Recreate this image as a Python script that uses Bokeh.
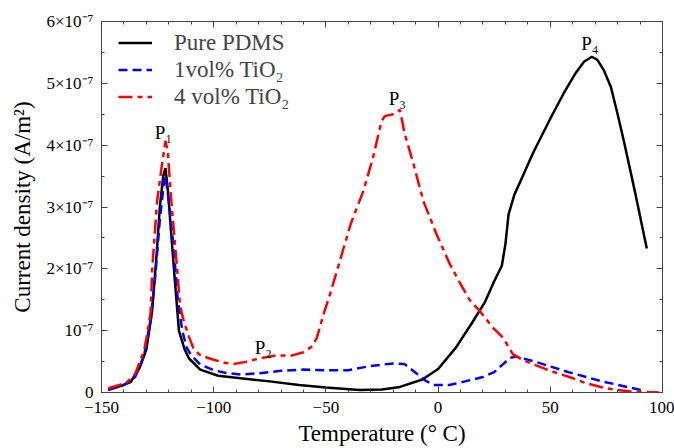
from bokeh.plotting import figure
from bokeh.models import (LinearAxis, SingleIntervalTicker, CustomJSTickFormatter,
                          Range1d, Label, Legend, LegendItem)
from bokeh.embed import file_html
from bokeh.resources import INLINE

FONT = "Liberation Serif"

# Temperature (deg C) and current density (units of 1e-7 A/m^2)
t_pdms = [-147, -142, -137, -133, -130, -127.5, -125.5, -124, -122.5, -121.5, -120.5, -119,
          -117.5, -115.5, -113, -111, -106, -98, -88, -75, -62, -50, -35, -25, -17, -7, 0,
          8, 15, 21, 25, 28.4, 30, 31.4, 34, 37, 42, 46, 51, 56, 61, 65, 68.5, 71, 74, 77,
          80, 83, 88, 93]
j_pdms = [0.04, 0.10, 0.17, 0.40, 0.70, 1.30, 2.20, 3.00, 3.50, 3.63, 3.30, 2.60,
          1.90, 1.00, 0.70, 0.55, 0.37, 0.27, 0.23, 0.18, 0.12, 0.08, 0.04, 0.05, 0.09, 0.21, 0.38,
          0.73, 1.12, 1.47, 1.80, 2.05, 2.40, 2.88, 3.20, 3.44, 3.85, 4.14, 4.50, 4.84, 5.15, 5.35,
          5.43, 5.38, 5.20, 4.94, 4.50, 4.03, 3.20, 2.33]

t_tio1 = [-147, -140, -135, -131, -128, -126, -124, -122, -121.5, -120, -118, -116, -114,
          -112, -110, -106, -100, -95, -88, -80, -70, -60, -50, -40, -30, -20, -15, -10, -6,
          -2, 5, 12, 20, 25, 29, 32, 35, 44, 58, 73, 88, 92]
j_tio1 = [0.05, 0.12, 0.25, 0.60, 1.20, 1.90, 2.80, 3.45, 3.50, 3.10, 2.40, 1.50, 1.00,
          0.72, 0.60, 0.45, 0.36, 0.32, 0.29, 0.31, 0.35, 0.37, 0.36, 0.36, 0.43, 0.47, 0.46,
          0.32, 0.20, 0.12, 0.12, 0.18, 0.25, 0.33, 0.46, 0.56, 0.58, 0.49, 0.33, 0.18, 0.06, 0.03]

t_tio4 = [-147, -142, -138.5, -135, -131, -129.6, -128.1, -127.4, -125.2, -123, -121.5, -120.5,
          -118.9, -116.3, -115, -113.3, -111, -108.9, -105.9, -100, -95, -91, -85, -80, -72,
          -65, -60, -56, -54, -51, -48.5, -44, -39, -33.3, -29, -25.2, -23.7, -20, -17, -15,
          -11, -6.6, -0.7, 5.2, 9.6, 14, 18.5, 24.4, 28.9, 33.3, 38, 43.7, 50, 58.5, 66, 73.3,
          80, 85, 98.5]
j_tio4 = [0.07, 0.12, 0.17, 0.30, 0.68, 0.95, 1.30, 2.00, 3.10, 3.70, 4.07, 3.90,
          3.10, 2.00, 1.40, 1.15, 0.90, 0.70, 0.60, 0.53, 0.48, 0.46, 0.50, 0.55, 0.60,
          0.60, 0.65, 0.75, 0.89, 1.27, 1.55, 2.10, 2.72, 3.26, 3.80, 4.39, 4.47, 4.50, 4.57, 4.20,
          3.70, 3.10, 2.56, 2.08, 1.78, 1.50, 1.32, 1.05, 0.89, 0.62, 0.52, 0.44, 0.35, 0.25, 0.15, 0.08,
          0.04, 0.02, 0.0]

series_names = ["Pure PDMS", "1vol% TiO\u2082", "4 vol% TiO\u2082"]

peak_labels = ["P\u2081", "P\u2082", "P\u2083", "P\u2084"]
peak_t = [-122.4, -77.9, -18.2, 67.6]
peak_j = [4.2, 0.73, 4.75, 5.64]

p = figure(width=674, height=448, output_backend="svg", toolbar_location=None,
           x_range=Range1d(-150, 100), y_range=Range1d(0, 6),
           min_border_left=101, min_border_right=12, min_border_top=21, min_border_bottom=56,
           background_fill_color="white", border_fill_color="white")
p.grid.visible = False
p.outline_line_color = "#444444"
p.outline_line_width = 1

xt = SingleIntervalTicker(interval=50, num_minor_ticks=5)
yt = SingleIntervalTicker(interval=1, num_minor_ticks=2)
xfmt = CustomJSTickFormatter(code="""
const v = Math.round(tick);
return (v < 0 ? "\\u2212" : "") + Math.abs(v);
""")
yfmt = CustomJSTickFormatter(code="""
const n = Math.round(tick);
if (n === 0) return "0";
if (n === 1) return "10\\u207B\\u2077";
return n + "\\u00D710\\u207B\\u2077";
""")
blank = CustomJSTickFormatter(code='return "";')

def style_axis(ax, ticker):
    ax.ticker = ticker
    ax.axis_line_color = "#444444"
    ax.major_tick_line_color = "#444444"
    ax.minor_tick_line_color = "#444444"
    ax.major_tick_in = 6
    ax.major_tick_out = 0
    ax.minor_tick_in = 3
    ax.minor_tick_out = 0
    ax.major_label_text_font = FONT
    ax.major_label_text_font_size = "17px"
    ax.major_label_text_color = "black"
    ax.axis_label_text_font = FONT
    ax.axis_label_text_font_size = "23px"
    ax.axis_label_text_font_style = "normal"
    ax.axis_label_text_color = "black"

xa = p.xaxis[0]
style_axis(xa, xt)
xa.formatter = xfmt
xa.axis_label = "Temperature (\u00B0 C)"
xa.major_label_standoff = 9
xa.axis_label_standoff = 5

ya = p.yaxis[0]
style_axis(ya, yt)
ya.formatter = yfmt
ya.axis_label = "Current density (A/m\u00B2)"
ya.major_label_standoff = 8
ya.axis_label_standoff = 8

top = LinearAxis()
style_axis(top, xt)
top.formatter = blank
top.major_label_standoff = 0
p.add_layout(top, "above")

right = LinearAxis()
style_axis(right, yt)
right.formatter = blank
right.major_label_standoff = 0
p.add_layout(right, "right")

r1 = p.line(t_pdms, j_pdms, line_color="black", line_width=2.5)
r2 = p.line(t_tio1, j_tio1, line_color="#0000ff", line_width=2.5, line_dash="9 5")
r3 = p.line(t_tio4, j_tio4, line_color="#ff0000", line_width=2.5, line_dash="14 5 5 5")

legend = Legend(items=[LegendItem(label=series_names[0], renderers=[r1]),
                       LegendItem(label=series_names[1], renderers=[r2]),
                       LegendItem(label=series_names[2], renderers=[r3])],
                location=(17, 282), margin=0, padding=0, spacing=0,
                glyph_width=34, glyph_height=27, label_height=27, label_standoff=22,
                label_text_font=FONT, label_text_font_size="23px",
                border_line_color=None, background_fill_alpha=0)
p.add_layout(legend)

for txt, tx, ty in zip(peak_labels, peak_t, peak_j):
    p.add_layout(Label(x=tx, y=ty, text=txt, text_font=FONT, text_font_size="19px",
                       text_align="center", text_baseline="middle", text_color="black"))

open("out.html", "w").write(file_html(p, INLINE))
